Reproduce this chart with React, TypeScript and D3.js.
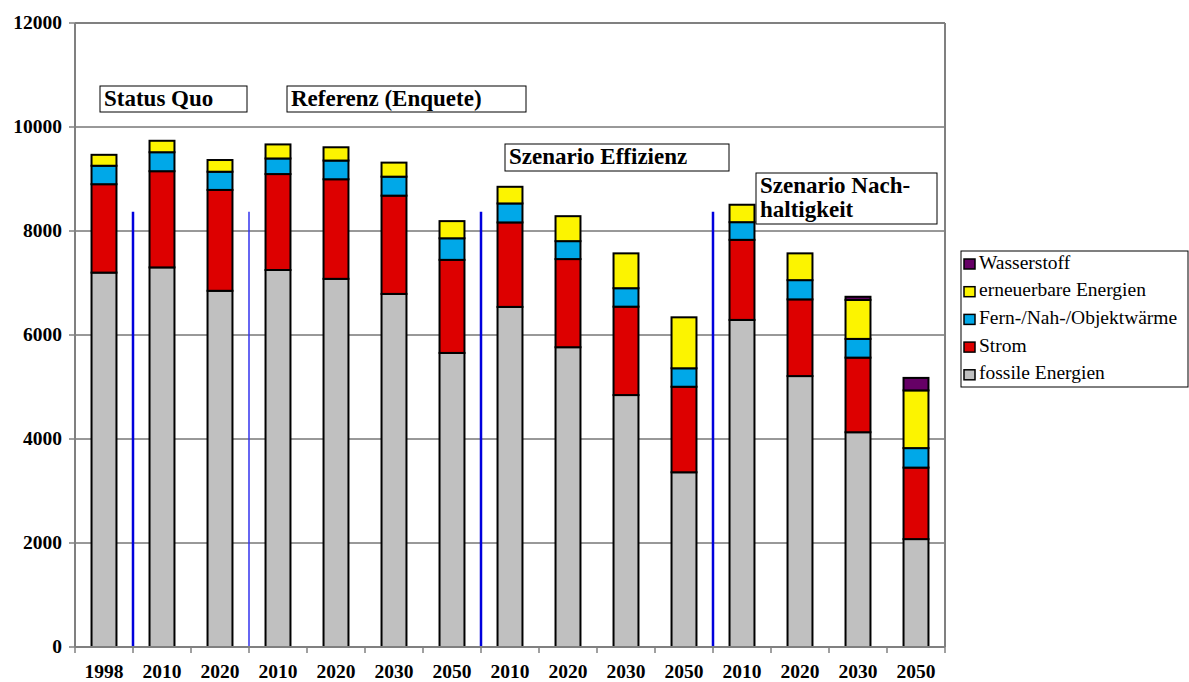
import React from "react";
import * as d3 from "d3";

const categories = ["1998", "2010", "2020", "2010", "2020", "2030", "2050", "2010", "2020", "2030", "2050", "2010", "2020", "2030", "2050"];
const fossile = [7200, 7300, 6850, 7250, 7080, 6790, 5655, 6540, 5765, 4845, 3360, 6290, 5210, 4130, 2075];
const strom = [1700, 1850, 1940, 1845, 1915, 1890, 1790, 1625, 1695, 1700, 1645, 1540, 1475, 1435, 1375];
const fern = [355, 365, 350, 300, 360, 365, 415, 365, 345, 355, 355, 340, 370, 360, 375];
const erneuerbar = [210, 220, 225, 270, 255, 270, 330, 320, 480, 670, 980, 335, 515, 750, 1110];
const wasserstoff = [0, 0, 0, 0, 0, 0, 0, 0, 0, 0, 0, 0, 0, 60, 240];
const seriesNames = ["fossile Energien", "Strom", "Fern-/Nah-/Objektwärme", "erneuerbare Energien", "Wasserstoff"];
const seriesColors = ["#c0c0c0", "#dd0000", "#00a8e8", "#fcf400", "#660066"];
const yTicks = [0, 2000, 4000, 6000, 8000, 10000, 12000];
const dividerIndices = [1, 3, 7, 11];
const dividerTopValue = 8370;
const scenarioLabels = [
  { lines: ["Status Quo"], x: 100, y: 86, w: 147, h: 26 },
  { lines: ["Referenz (Enquete)"], x: 287, y: 86, w: 239, h: 26 },
  { lines: ["Szenario Effizienz"], x: 505, y: 144, w: 224, h: 27 },
  { lines: ["Szenario Nach-", "haltigkeit"], x: 756, y: 173, w: 181, h: 51 },
];

const W = 1189;
const H = 682;
const left = 75;
const right = 945;
const top = 23;
const bottom = 647;

const FONT = "'Liberation Serif', 'DejaVu Serif', 'Times New Roman', serif";

export default function App() {
  const x = d3.scaleBand<number>().domain(d3.range(categories.length)).range([left, right]).paddingInner(0.57).paddingOuter(0.285);
  const y = d3.scaleLinear().domain([0, 12000]).range([bottom, top]);
  const step = (right - left) / categories.length;
  const rows = categories.map((c, i) => ({ i, s0: fossile[i], s1: strom[i], s2: fern[i], s3: erneuerbar[i], s4: wasserstoff[i] }));
  const stack = d3.stack<any>().keys(["s0", "s1", "s2", "s3", "s4"])(rows);

  const legendOrder = [4, 3, 2, 1, 0];
  const ts = (size: number, bold: boolean) => ({ fontFamily: FONT, fontSize: size, fontWeight: bold ? 700 : 400 });

  return (
    <svg width={W} height={H} style={{ position: "absolute", left: 0, top: 0, background: "#fff" }}>
      {yTicks.filter((t) => t > 0 && t < 12000).map((t) => (
        <line key={t} x1={left} x2={right} y1={y(t)} y2={y(t)} stroke="#333" strokeWidth={1} />
      ))}
      <line x1={left} x2={right} y1={top} y2={top} stroke="#808080" strokeWidth={2} />
      <line x1={right} x2={right} y1={top} y2={bottom} stroke="#808080" strokeWidth={2} />
      {stack.map((layer, k) => (
        <g key={k}>
          {layer.map((d, i) =>
            d[1] - d[0] > 0 ? (
              <rect key={i} x={x(i)} y={y(d[1])} width={x.bandwidth()} height={y(d[0]) - y(d[1])} fill={seriesColors[k]} stroke="#000" strokeWidth={2} />
            ) : null
          )}
        </g>
      ))}
      {dividerIndices.map((di, j) => (
        <line key={di} x1={left + step * di} x2={left + step * di} y1={y(dividerTopValue)} y2={bottom} stroke={j === 1 ? "#3333ee" : "#0000dd"} strokeWidth={j === 1 ? 1.5 : 2.5} />
      ))}
      <line x1={left} x2={left} y1={top} y2={bottom} stroke="#808080" strokeWidth={2} />
      <line x1={left} x2={right} y1={bottom} y2={bottom} stroke="#808080" strokeWidth={2} />
      {yTicks.map((t) => (
        <g key={t}>
          <line x1={left - 6} x2={left} y1={y(t)} y2={y(t)} stroke="#808080" strokeWidth={1.5} />
          <text x={62} y={y(t) + 6} textAnchor="end" style={ts(19.5, true)}>{t}</text>
        </g>
      ))}
      {d3.range(categories.length + 1).map((i) => (
        <line key={i} x1={left + step * i} x2={left + step * i} y1={bottom} y2={bottom + 6} stroke="#808080" strokeWidth={1.5} />
      ))}
      {categories.map((c, i) => (
        <text key={i} x={(x(i) as number) + x.bandwidth() / 2} y={678} textAnchor="middle" style={ts(19.5, true)}>{c}</text>
      ))}
      {scenarioLabels.map((s, j) => (
        <g key={j}>
          <rect x={s.x} y={s.y} width={s.w} height={s.h} fill="#fff" stroke="#000" strokeWidth={1} />
          {s.lines.map((ln, k) => (
            <text key={k} x={s.x + 4} y={s.y + 19.5 + k * 24} style={ts(23, true)}>{ln}</text>
          ))}
        </g>
      ))}
      <rect x={961} y={251} width={227} height={136} fill="#fff" stroke="#000" strokeWidth={1} />
      {legendOrder.map((k, j) => (
        <g key={k}>
          <rect x={964} y={259 + j * 27.7} width={11} height={10} fill={seriesColors[k]} stroke="#000" strokeWidth={1.5} />
          <text x={979} y={268.5 + j * 27.7} style={ts(19.5, false)}>{seriesNames[k]}</text>
        </g>
      ))}
    </svg>
  );
}
